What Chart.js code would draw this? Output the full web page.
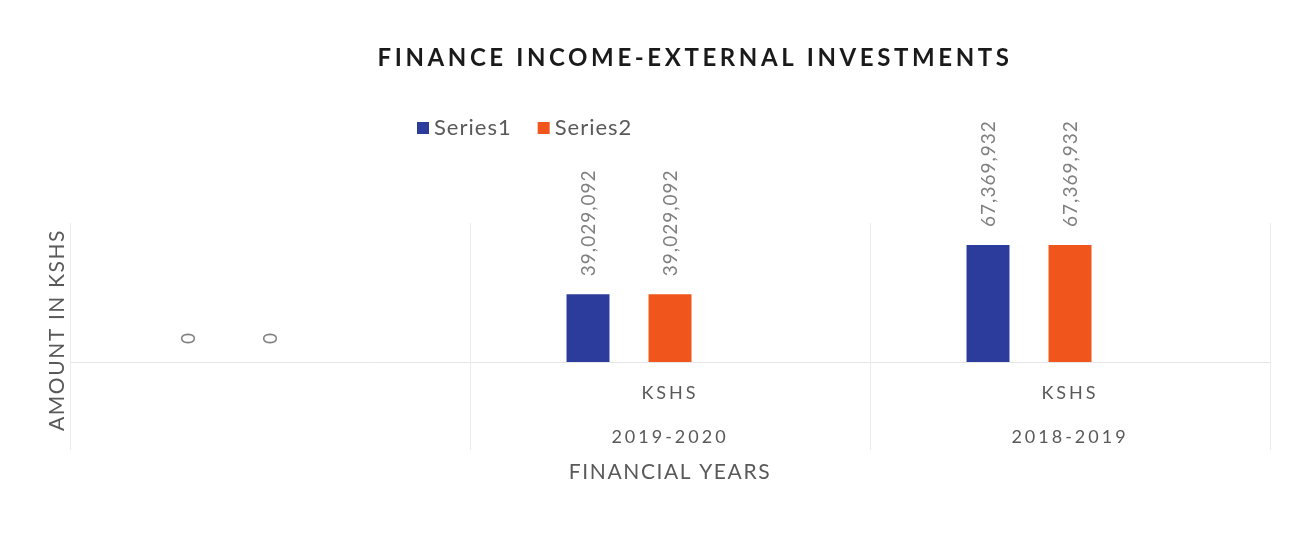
<!DOCTYPE html>
<html>
<head>
<meta charset="utf-8">
<script src="https://cdn.jsdelivr.net/npm/chart.js@4"></script>
<style>
  html, body { margin: 0; padding: 0; background: #fff; }
</style>
</head>
<body>
<canvas id="chart" width="1304" height="559"></canvas>
<script>
// データ
const categories = [['', ''], ['KSHS', '2019-2020'], ['KSHS', '2018-2019']];
const series1 = [0, 39029092, 67369932];
const series2 = [0, 39029092, 67369932];
const series3 = [null, null, null]; // Excel側の空系列（スロットだけ確保）
const seriesNames = ['Series1', 'Series2', 'Series3'];
const chartTitle = 'FINANCE INCOME-EXTERNAL INVESTMENTS';
const xTitle = 'FINANCIAL YEARS';
const yTitle = 'AMOUNT IN KSHS';
const yMax = 80000000;

const FONT = 'Lato, "Open Sans", sans-serif';
const BLUE = '#2b3c9c';
const ORANGE = '#f0561c';
const GRID = '#ececec';
const LABEL_DEPTH = 88; // カテゴリ区切り線を軸ラベル領域まで延ばす長さ

// 軸ラベルの字間を広げる
const spacing = {
  id: 'spacing',
  beforeDraw(chart) {
    chart.ctx.letterSpacing = '3px';
  },
};

// カテゴリ区切り線（ラベル領域部分）
const dividerExt = {
  id: 'dividerExt',
  afterDraw(chart) {
    const ctx = chart.ctx;
    const xs = chart.scales.x;
    const area = chart.chartArea;
    ctx.save();
    ctx.strokeStyle = GRID;
    ctx.lineWidth = 1;
    for (let i = 0; i <= categories.length; i++) {
      const px = Math.round(xs.getPixelForValue(i - 0.5)) + 0.5;
      ctx.beginPath();
      ctx.moveTo(px, area.bottom);
      ctx.lineTo(px, area.bottom + LABEL_DEPTH);
      ctx.stroke();
    }
    ctx.restore();
  },
};

// 棒の上に縦書きの数値
const valueLabels = {
  id: 'valueLabels',
  afterDatasetsDraw(chart) {
    const ctx = chart.ctx;
    ctx.save();
    ctx.font = '19px ' + FONT;
    ctx.fillStyle = '#808080';
    ctx.letterSpacing = '1px';
    ctx.textAlign = 'left';
    ctx.textBaseline = 'middle';
    chart.data.datasets.forEach((ds, di) => {
      if (!ds.showValues) return;
      chart.getDatasetMeta(di).data.forEach((bar, i) => {
        const v = ds.data[i];
        if (v == null) return;
        ctx.save();
        ctx.translate(bar.x + 1, bar.y - 18);
        ctx.rotate(-Math.PI / 2);
        ctx.fillText(v.toLocaleString('en-US'), 0, 0);
        ctx.restore();
      });
    });
    ctx.restore();
  },
};

// タイトル・凡例・軸タイトル
const decorations = {
  id: 'decorations',
  afterDraw(chart) {
    const ctx = chart.ctx;
    const area = chart.chartArea;

    ctx.save();
    ctx.fillStyle = '#1a1a1a';
    ctx.font = '700 24px ' + FONT;
    ctx.letterSpacing = '3.6px';
    ctx.textAlign = 'center';
    ctx.textBaseline = 'middle';
    ctx.fillText(chartTitle, 695, 58);
    ctx.restore();

    // 凡例（空系列は除く）
    ctx.save();
    ctx.font = '22px ' + FONT;
    ctx.letterSpacing = '1px';
    ctx.textBaseline = 'middle';
    let x = 417;
    chart.data.datasets.forEach(ds => {
      if (!ds.showValues) return;
      ctx.fillStyle = ds.backgroundColor;
      ctx.fillRect(x, 122, 12, 12);
      ctx.fillStyle = '#595959';
      ctx.fillText(ds.label, x + 17, 128);
      x += 17 + ctx.measureText(ds.label).width + 26;
    });
    ctx.restore();

    // X軸タイトル
    ctx.save();
    ctx.font = '21px ' + FONT;
    ctx.letterSpacing = '1.6px';
    ctx.fillStyle = '#595959';
    ctx.textAlign = 'center';
    ctx.textBaseline = 'middle';
    ctx.fillText(xTitle, (area.left + area.right) / 2, 472);
    ctx.restore();

    // Y軸タイトル
    ctx.save();
    ctx.font = '21px ' + FONT;
    ctx.letterSpacing = '1.6px';
    ctx.fillStyle = '#595959';
    ctx.textAlign = 'center';
    ctx.textBaseline = 'middle';
    ctx.translate(57, 330);
    ctx.rotate(-Math.PI / 2);
    ctx.fillText(yTitle, 0, 0);
    ctx.restore();
  },
};

new Chart(document.getElementById('chart'), {
  type: 'bar',
  data: {
    labels: categories,
    datasets: [
      { label: seriesNames[0], data: series1, backgroundColor: BLUE, showValues: true },
      { label: seriesNames[1], data: series2, backgroundColor: ORANGE, showValues: true },
      { label: seriesNames[2], data: series3, backgroundColor: '#a5a5a5', showValues: false },
    ],
  },
  options: {
    responsive: false,
    animation: false,
    categoryPercentage: 0.615,
    barPercentage: 0.524,
    layout: { padding: { left: 70, right: 34, top: 223, bottom: 100 } },
    plugins: {
      legend: { display: false },
      title: { display: false },
      tooltip: { enabled: false },
    },
    scales: {
      x: {
        afterFit(scale) { scale.height = 97; },
        grid: { offset: true, color: GRID, drawTicks: false },
        border: { color: '#e6e6e6' },
        ticks: {
          padding: 9,
          color: '#595959',
          font: { family: FONT, size: 18, lineHeight: 2.45 },
          maxRotation: 0,
          autoSkip: false,
        },
      },
      y: { display: false, min: 0, max: yMax },
    },
  },
  plugins: [spacing, dividerExt, valueLabels, decorations],
});
</script>
</body>
</html>
